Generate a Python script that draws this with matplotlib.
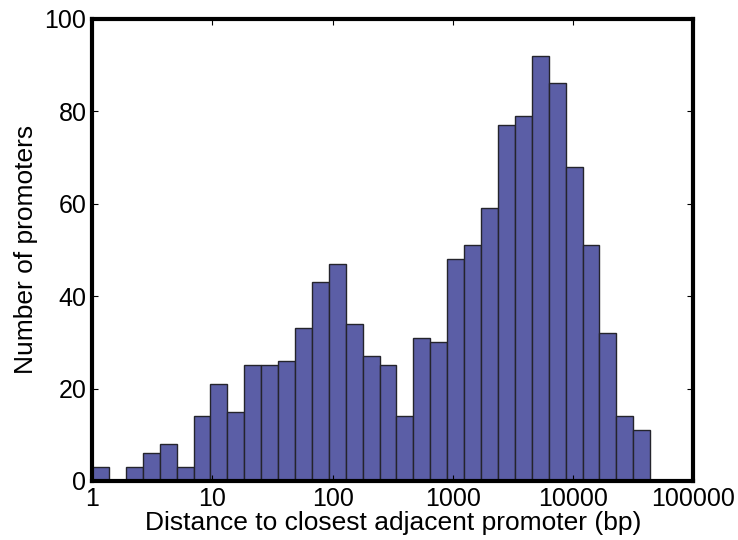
import numpy as np
import matplotlib
matplotlib.use('Agg')
import matplotlib.pyplot as plt

# counts per log-spaced bin
counts = [3, 0, 3, 6, 8, 3, 14, 21, 15, 25, 25, 26, 33, 43, 47, 34, 27,
          25, 14, 31, 30, 48, 51, 59, 77, 79, 92, 86, 68, 51, 32, 14, 11]
# bin edges in log10(bp)
log_edges = np.linspace(0, 4.64, len(counts) + 1)
xticks = [1, 10, 100, 1000, 10000, 100000]
xticklabels = ['1', '10', '100', '1000', '10000', '100000']
yticks = [0, 20, 40, 60, 80, 100]

plt.rcParams['font.family'] = ['Liberation Sans', 'DejaVu Sans']

edges = 10 ** log_edges
fig = plt.figure(figsize=(7.38, 5.4), dpi=100)
ax = fig.add_axes([0.1247, 0.1093, 0.8150, 0.8561])
ax.hist(edges[:-1], bins=edges, weights=counts, color='#5b5ea6',
        edgecolor='#24242c', linewidth=1.0)
ax.set_xscale('log')
ax.set_xlim(1, 100000)
ax.set_ylim(0, 100)
ax.set_xticks(xticks)
ax.set_xticklabels(xticklabels)
ax.minorticks_off()
ax.set_yticks(yticks)
ax.tick_params(direction='in', length=4, width=0.8, top=True, right=True,
               labelsize=18, pad=4)
for s in ax.spines.values():
    s.set_linewidth(3)
ax.set_xlabel('Distance to closest adjacent promoter (bp)', fontsize=19, labelpad=0)
ax.set_ylabel('Number of promoters', fontsize=19, labelpad=5)

fig.savefig('out.png', dpi=100)
